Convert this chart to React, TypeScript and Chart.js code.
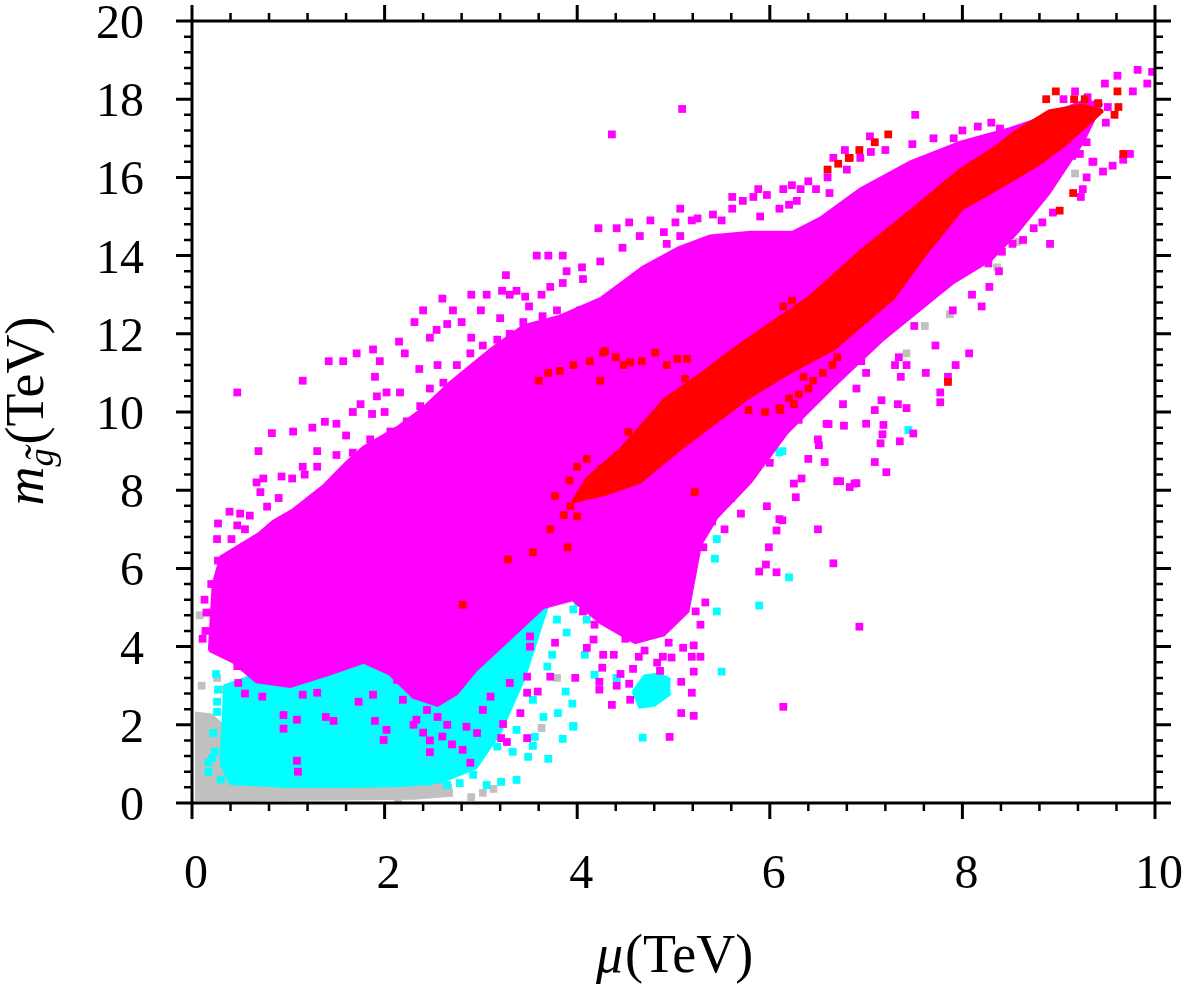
import { useEffect, useRef } from 'react';
import { Chart, registerables } from 'chart.js';

Chart.register(...registerables);

type P = [number, number];

// axes
const xTicks = [0, 2, 4, 6, 8, 10];
const yTicks = [0, 2, 4, 6, 8, 10, 12, 14, 16, 18, 20];
const xMax = 10;
const yMax = 20;
const minorPerMajor = 5;

const COLORS = { gray: '#c0c0c0', cyan: '#00ffff', magenta: '#ff00ff', red: '#ff0000' };

// dense cores, upper and lower edges (mu, m_gluino) in TeV
const grayBandUpper: P[] = [[0.03, 2.3], [0.2, 2.25], [0.36, 1.9], [0.45, 0.8], [1.0, 0.62], [1.8, 0.6], [2.3, 0.55], [2.7, 0.45]];
const grayBandLower: P[] = [[0.03, 0.08], [0.5, 0.08], [1.5, 0.1], [2.3, 0.12], [2.7, 0.2]];

const cyanBandUpper: P[] = [[0.3, 1.0], [0.34, 3.0], [0.8, 3.4], [1.5, 3.6], [2.2, 3.8], [2.8, 3.9], [3.2, 4.2], [3.5, 4.8], [3.7, 5.1]];
const cyanBandLower: P[] = [[0.3, 1.0], [0.4, 0.5], [1.0, 0.42], [1.6, 0.42], [2.2, 0.45], [2.6, 0.55], [2.95, 0.9], [3.2, 1.8], [3.45, 3.2], [3.7, 5.1]];
const cyanBlobUpper: P[] = [[4.58, 2.85], [4.7, 3.25], [4.85, 3.3], [4.97, 3.15]];
const cyanBlobLower: P[] = [[4.58, 2.85], [4.65, 2.45], [4.8, 2.5], [4.97, 2.8]];

const magentaBandUpper: P[] = [
  [0.18, 3.9], [0.22, 5.6], [0.3, 6.3], [0.5, 6.6], [0.7, 6.9], [0.84, 7.2], [1.05, 7.5], [1.36, 8.1], [1.6, 8.7], [1.78, 9.1],
  [2.13, 9.6], [2.4, 10.1], [2.68, 10.75], [3.1, 11.6], [3.44, 12.2], [3.82, 12.45], [4.24, 12.9], [4.68, 13.7],
  [5.05, 14.2], [5.38, 14.5], [5.8, 14.6], [6.24, 14.6], [6.52, 14.95], [6.94, 15.7], [7.46, 16.4], [7.98, 16.9],
  [8.5, 17.25], [8.8, 17.5], [9.25, 17.95], [9.45, 17.9],
];
const magentaBandLower: P[] = [
  [0.18, 3.9], [0.43, 3.6], [0.67, 3.1], [1.02, 2.98], [1.43, 3.3], [1.78, 3.6], [2.05, 3.3], [2.3, 2.7], [2.55, 2.5],
  [2.75, 2.8], [2.95, 3.4], [3.3, 4.2], [3.65, 5.0], [3.95, 5.2], [4.25, 4.6], [4.6, 4.1], [4.9, 4.3], [5.15, 4.9],
  [5.28, 6.6], [5.45, 7.3], [5.8, 8.2], [6.18, 9.47], [6.66, 10.65], [7.18, 11.86], [7.7, 12.9], [7.9, 13.3],
  [8.3, 13.9], [8.57, 14.6], [8.9, 15.6], [9.25, 16.9], [9.45, 17.9],
];

const redBandUpper: P[] = [
  [3.95, 7.7], [4.1, 8.3], [4.45, 9.05], [4.91, 10.33], [5.3, 11.0], [5.62, 11.6], [6.0, 12.25], [6.39, 12.9], [6.97, 14.17],
  [7.49, 15.2], [7.98, 16.2], [8.3, 16.7], [8.57, 17.2], [8.9, 17.7], [9.25, 17.85], [9.46, 17.7],
];
const redBandLower: P[] = [
  [3.95, 7.7], [4.3, 7.9], [4.65, 8.2], [5.07, 9.05], [5.76, 10.33], [6.2, 11.0], [6.66, 11.6], [7.28, 12.9], [7.66, 14.17],
  [8.0, 15.2], [8.29, 15.6], [8.77, 16.3], [9.05, 16.8], [9.46, 17.7],
];

// scattered points
const grayPoints: P[] = [
  [0.08, 4.8], [0.26, 3.2], [0.08, 2.2], [0.16, 2.08], [0.14, 1.46], [0.08, 1.05], [0.29, 1.49], [0.62, 3.33], [0.63, 3.59],
  [0.69, 3.79], [0.57, 4.61], [3.63, 1.92], [3.79, 3.2], [2.32, 0.26], [2.47, 0.36], [2.67, 0.26], [3.13, 0.36], [3.02, 0.26],
  [2.14, 0.1], [1.95, 0.41], [2.08, 0.38], [7.61, 12.2], [7.87, 12.5], [7.42, 11.5], [9.17, 16.1], [8.57, 14.35], [8.36, 13.7],
  [9.0, 16.6], [0.5, 2.6], [0.35, 2.9], [2.9, 0.15], [0.1, 3.0], [0.45, 2.3], [0.55, 2.1],
];

const cyanPoints: P[] = [
  [5.45, 6.75], [5.43, 6.25], [6.2, 5.77], [5.45, 4.9], [5.89, 5.05], [5.5, 3.36], [7.44, 9.54], [6.13, 9.0], [5.5, 7.95],
  [3.88, 2.85], [3.95, 2.54], [3.96, 1.97], [4.68, 1.67], [4.71, 6.23], [4.75, 6.56], [4.65, 6.3], [4.79, 7.17], [4.08, 5.38],
  [3.96, 4.95], [3.89, 4.36], [4.08, 3.79], [4.18, 3.28], [4.41, 3.2], [5.5, 8.03], [6.1, 8.97], [3.37, 0.59], [3.21, 0.54],
  [3.06, 0.46], [2.92, 0.72], [3.49, 1.18], [3.7, 1.13], [3.54, 1.46], [3.85, 1.64], [3.96, 1.95], [3.8, 2.3], [3.54, 2.64],
  [3.65, 2.2], [3.37, 1.87], [3.17, 1.44], [3.33, 1.31], [3.56, 1.69], [4.1, 4.69], [4.01, 5.12], [3.79, 4.69], [3.69, 3.49],
  [3.74, 3.79], [2.78, 0.51], [2.65, 0.46], [2.44, 0.54], [2.23, 0.54], [0.26, 2.59], [0.26, 2.33], [0.27, 2.9], [0.39, 2.51],
  [0.38, 2.26], [0.22, 1.79], [0.17, 0.79], [0.17, 1.03], [0.24, 1.31], [0.36, 1.44], [0.21, 1.15], [4.3, 5.6], [4.5, 6.0],
  [4.9, 7.4], [5.1, 7.7], [5.3, 7.9], [4.4, 5.8], [3.3, 3.0], [3.0, 2.6], [3.2, 3.3], [0.3, 0.6], [0.25, 3.3],
];

const magentaPoints: P[] = [
  // upper-left strand
  [0.47, 10.5], [1.15, 10.8], [0.69, 9.0], [0.83, 9.46], [1.05, 9.5], [1.42, 11.3], [1.57, 11.3], [1.71, 11.5], [1.88, 11.6],
  [1.95, 11.3], [2.15, 11.8], [2.21, 11.5], [2.31, 12.3], [2.4, 12.6], [2.54, 12.1], [2.65, 12.25], [2.71, 12.6], [2.9, 13.0],
  [3.06, 13.0], [3.22, 13.1], [3.37, 13.1], [3.63, 13.0], [3.72, 13.2], [3.85, 13.3], [1.5, 9.7], [1.38, 9.75], [1.25, 9.6],
  [1.75, 10.2], [1.87, 9.95], [1.67, 10.0], [1.92, 10.4], [2.02, 10.5], [2.16, 10.5], [2.36, 11.1], [2.47, 11.9], [0.67, 8.2],
  [0.74, 8.3], [0.71, 7.95], [0.93, 8.35], [1.04, 8.3], [1.15, 8.6], [1.17, 8.4], [0.27, 7.15], [0.39, 7.45], [0.5, 7.4],
  [0.6, 7.35], [0.47, 7.1], [0.26, 6.75], [0.41, 6.75], [0.14, 4.4], [0.13, 5.2], [0.2, 5.6], [0.27, 6.2], [0.11, 4.2],
  [0.32, 5.84], [0.26, 5.63], [0.15, 4.87], [0.27, 4.23], [0.27, 4.0], [0.47, 3.5], [0.48, 3.07], [0.55, 2.8], [0.73, 2.72],
  [2.6, 12.9], [3.0, 12.6], [3.58, 14.0], [3.7, 14.0], [3.26, 13.5], [3.3, 13.0], [3.46, 12.95], [1.3, 9.0], [1.6, 9.4],
  [2.0, 10.0], [2.55, 11.2], [2.9, 11.9], [3.2, 12.4], [3.5, 12.7], [0.9, 7.8], [0.55, 7.0], [1.9, 10.9], [2.8, 12.3],
  // along the upper edge of the core
  [0.78, 7.58], [1.3, 8.6], [1.5, 8.9], [1.67, 8.96], [1.85, 9.3], [2.06, 9.5], [2.23, 9.76], [2.37, 10.15], [2.47, 10.6],
  [2.61, 10.75], [2.75, 11.2], [2.89, 11.5], [3.02, 11.7], [3.17, 11.85], [3.3, 12.0], [3.44, 12.3], [3.64, 12.45], [3.79, 12.6],
  [4.03, 12.6],
  // inside the cyan cloud
  [0.95, 2.25], [0.95, 1.9], [1.09, 2.13], [1.09, 1.08], [1.1, 0.8], [1.39, 2.2], [1.47, 2.1], [1.3, 2.82], [1.15, 2.77],
  [1.73, 2.59], [1.88, 2.77], [1.9, 2.1], [2.02, 1.87], [1.99, 1.61], [2.13, 3.15], [2.19, 2.64], [2.33, 2.13], [2.44, 2.38],
  [2.47, 1.6], [2.47, 1.3], [2.6, 1.7], [2.81, 1.36], [2.89, 1.03], [2.85, 1.95], [2.96, 1.79], [3.02, 2.38], [3.1, 2.72],
  [3.21, 1.66], [3.27, 1.56], [3.48, 1.66], [3.23, 2.02], [3.41, 2.3], [3.48, 2.82], [3.59, 2.85], [3.48, 3.23], [3.3, 3.07],
  [3.72, 3.23], [3.98, 3.2], [3.77, 4.1], [3.51, 4.0], [4.1, 3.97], [4.18, 4.56], [4.06, 4.9], [3.51, 4.26], [2.3, 2.0],
  [2.4, 1.8], [2.55, 2.2], [2.7, 1.5], [2.65, 2.0],
  // lower tongue and lower right
  [4.98, 3.72], [4.86, 3.38], [4.55, 2.64], [4.36, 2.51], [4.54, 3.05], [4.41, 3.0], [4.23, 2.9], [4.23, 3.1], [4.26, 3.46],
  [4.58, 3.43], [4.64, 3.74], [4.83, 3.59], [4.27, 3.79], [4.38, 3.79], [4.17, 4.18], [5.1, 3.97], [4.89, 3.74], [5.33, 5.13],
  [5.23, 4.9], [5.28, 4.56], [5.21, 4.03], [5.19, 3.74], [5.28, 3.74], [5.21, 3.36], [5.19, 2.82], [5.08, 3.1], [5.21, 2.23],
  [5.08, 2.3], [4.96, 1.69], [6.93, 4.51], [6.14, 2.46], [4.45, 3.3], [4.7, 3.9], [4.95, 4.1], [4.5, 4.2],
  // right of the band
  [6.59, 9.7], [6.77, 9.65], [7.0, 9.7], [7.18, 9.67], [7.17, 9.43], [7.15, 9.2], [7.35, 9.25], [7.49, 9.45], [7.09, 8.72],
  [7.21, 8.46], [6.57, 8.72], [6.51, 9.15], [6.7, 8.23], [6.88, 8.17], [6.33, 8.3], [6.25, 8.17], [6.27, 7.82], [6.1, 7.26],
  [6.07, 6.97], [6.5, 7.0], [5.99, 6.54], [5.96, 6.1], [6.07, 5.9], [6.66, 6.13], [5.89, 5.92], [5.53, 7.0], [5.31, 6.54],
  [5.97, 7.59], [6.13, 7.23], [8.07, 11.5], [7.93, 11.2], [7.77, 10.5], [7.77, 10.25], [7.85, 10.9], [7.72, 11.7], [7.62, 11.0],
  [7.42, 11.2], [7.34, 11.4], [7.3, 11.2], [7.36, 10.9], [7.16, 10.3], [7.33, 10.2], [7.42, 10.1], [7.09, 10.05], [6.76, 10.2],
  [6.61, 9.69], [6.73, 8.23], [6.83, 8.08], [6.9, 8.18], [6.5, 9.3], [6.9, 10.6], [7.0, 11.0], [6.4, 8.8], [5.7, 7.4],
  [5.6, 7.8], [5.4, 7.2], [7.5, 12.2], [7.9, 12.6], [8.1, 13.0], [8.2, 12.7], [6.95, 11.3], [6.3, 9.8], [6.0, 8.7],
  // upper right
  [4.36, 17.1], [5.09, 17.75], [7.48, 16.85], [7.04, 17.05], [6.78, 16.7], [7.05, 16.65], [6.94, 16.5], [6.66, 16.5], [6.8, 16.2],
  [6.6, 16.0], [6.62, 15.6], [6.4, 15.9], [6.48, 15.7], [6.32, 15.7], [6.23, 15.8], [6.14, 15.7], [6.28, 15.4], [6.2, 15.3],
  [5.97, 15.55], [5.88, 15.7], [5.83, 15.5], [5.61, 15.5], [5.72, 15.4], [5.61, 15.2], [5.07, 15.2], [5.41, 15.05], [4.76, 14.9],
  [4.54, 14.85], [4.41, 14.7], [4.22, 14.7], [5.02, 14.85], [5.19, 14.9], [5.25, 14.95], [5.07, 14.5], [4.93, 14.3], [4.65, 14.5],
  [4.47, 14.2], [4.06, 13.4], [3.89, 13.6], [3.85, 14.0], [4.05, 13.7], [4.24, 13.85], [7.51, 17.6], [9.82, 18.75], [9.61, 18.6],
  [9.48, 18.4], [9.77, 18.2], [9.92, 18.4], [9.97, 18.7], [9.17, 18.2], [9.05, 18.0], [9.3, 18.05], [9.51, 17.8], [9.49, 17.4],
  [9.74, 16.6], [9.67, 16.45], [9.56, 16.3], [9.46, 16.15], [9.36, 16.4], [9.22, 16.6], [9.14, 16.55], [9.29, 16.0], [9.25, 15.7],
  [9.23, 15.5], [8.94, 15.1], [8.83, 14.85], [8.74, 14.7], [8.63, 14.4], [8.91, 14.3], [8.55, 14.7], [8.52, 14.3], [8.41, 14.1],
  [8.27, 13.8], [8.38, 13.6], [8.28, 13.2], [8.39, 17.25], [8.16, 17.3], [8.0, 17.2], [7.91, 17.0], [9.29, 16.9], [9.35, 16.4],
  [5.5, 14.9], [5.9, 15.0], [6.1, 15.2], [4.9, 14.6], [7.2, 16.7], [7.7, 17.0], [8.3, 17.4],
];

const redPoints: P[] = [
  [2.81, 5.07], [3.28, 6.23], [3.54, 6.41], [3.9, 6.54], [3.77, 7.85], [3.86, 7.36], [3.6, 10.8], [4.24, 10.8], [4.13, 11.3],
  [3.96, 11.2], [3.82, 11.05], [4.29, 11.56], [3.72, 7.0], [3.93, 7.59], [4.06, 7.85], [4.2, 8.28], [4.0, 7.33], [4.27, 11.52],
  [4.48, 11.2], [4.55, 11.27], [4.67, 11.3], [4.81, 11.52], [4.93, 11.2], [5.04, 11.36], [5.14, 11.36], [5.12, 10.85], [6.14, 12.7],
  [6.23, 12.85], [6.6, 16.2], [6.71, 16.35], [6.82, 16.5], [6.93, 16.7], [7.09, 16.9], [7.23, 17.1], [5.22, 7.95], [5.78, 10.05],
  [6.11, 10.05], [7.85, 10.77], [5.02, 9.13], [4.53, 9.49], [8.87, 18.0], [8.97, 18.2], [9.16, 18.0], [9.27, 18.0], [9.41, 17.9],
  [9.61, 18.2], [9.62, 17.8], [9.58, 17.6], [9.67, 16.6], [9.15, 15.6], [9.01, 15.15], [6.83, 16.5], [4.4, 11.4], [3.7, 11.0],
  [4.0, 8.6], [4.1, 8.8], [4.25, 8.55], [3.92, 8.25],
  // lower strand below the main band
  [5.95, 10.0], [6.1, 10.1], [6.25, 10.2], [6.2, 10.35], [6.3, 10.45], [6.4, 10.6], [6.45, 10.8], [6.55, 11.0], [6.65, 11.2],
  [6.7, 11.4], [6.35, 10.9],
];

const toXY = (pts: P[]) => pts.map(([x, y]) => ({ x, y }));

// two datasets: upper edge filled down to the lower edge
function band(upper: P[], lower: P[], color: string, order: number) {
  return [
    { data: toXY(upper), showLine: true, fill: '+1', backgroundColor: color, borderColor: color, borderWidth: 3, pointRadius: 0, order },
    { data: toXY(lower), showLine: true, fill: false, backgroundColor: color, borderColor: color, borderWidth: 3, pointRadius: 0, order },
  ];
}

function dots(pts: P[], color: string, order: number) {
  return {
    data: toXY(pts), showLine: false, pointStyle: 'rect', pointRadius: 5.5, pointHoverRadius: 5.5,
    backgroundColor: color, borderWidth: 0, order,
  };
}

const FONT = '"Liberation Serif", "Times New Roman", serif';

// frame, outward ticks on four sides, labels and titles
const axesPlugin = {
  id: 'axesFrame',
  afterDraw(chart: any) {
    const { ctx, chartArea: a, scales } = chart;
    const xs = scales.x;
    const ys = scales.y;
    ctx.save();
    ctx.strokeStyle = '#000';
    ctx.fillStyle = '#000';

    const xSteps = (xMax / (xTicks[1] - xTicks[0])) * minorPerMajor;
    for (let i = 0; i <= xSteps; i++) {
      const v = (i * xMax) / xSteps;
      const major = i % minorPerMajor === 0;
      const len = major ? 16 : 8;
      const px = xs.getPixelForValue(v);
      ctx.lineWidth = major ? 3 : 2.5;
      ctx.beginPath();
      ctx.moveTo(px, a.bottom); ctx.lineTo(px, a.bottom + len);
      ctx.moveTo(px, a.top); ctx.lineTo(px, a.top - len);
      ctx.stroke();
    }
    const ySteps = (yMax / (yTicks[1] - yTicks[0])) * minorPerMajor;
    for (let i = 0; i <= ySteps; i++) {
      const v = (i * yMax) / ySteps;
      const major = i % minorPerMajor === 0;
      const len = major ? 16 : 8;
      const py = ys.getPixelForValue(v);
      ctx.lineWidth = major ? 3 : 2.5;
      ctx.beginPath();
      ctx.moveTo(a.left, py); ctx.lineTo(a.left - len, py);
      ctx.moveTo(a.right, py); ctx.lineTo(a.right + len, py);
      ctx.stroke();
    }

    ctx.lineWidth = 3;
    ctx.strokeRect(a.left, a.top, a.right - a.left, a.bottom - a.top);

    // tick labels
    ctx.font = `48px ${FONT}`;
    ctx.textBaseline = 'alphabetic';
    ctx.textAlign = 'center';
    xTicks.forEach(v => ctx.fillText(String(v), xs.getPixelForValue(v) + 4, a.bottom + 85));
    ctx.textAlign = 'right';
    yTicks.forEach(v => ctx.fillText(String(v), a.left - 48, ys.getPixelForValue(v) + 17));

    // x title: mu(TeV)
    ctx.textAlign = 'left';
    const big = 54;
    ctx.font = `italic ${big}px ${FONT}`;
    const wMu = ctx.measureText('μ').width;
    ctx.font = `${big}px ${FONT}`;
    const wTev = ctx.measureText('(TeV)').width;
    const sx = (a.left + a.right) / 2 - (wMu + wTev) / 2;
    ctx.font = `italic ${big}px ${FONT}`;
    ctx.fillText('μ', sx, 972);
    ctx.font = `${big}px ${FONT}`;
    ctx.fillText('(TeV)', sx + wMu + 2, 972);

    // y title: m_g~(TeV), rotated
    ctx.translate(43, 411);
    ctx.rotate(-Math.PI / 2);
    const sub = 36;
    ctx.font = `italic ${big}px ${FONT}`;
    const wM = ctx.measureText('m').width;
    ctx.font = `italic ${sub}px ${FONT}`;
    const wG = ctx.measureText('g').width;
    ctx.font = `italic 44px ${FONT}`;
    const wT = ctx.measureText('˜').width;
    ctx.font = `${big}px ${FONT}`;
    const wP = ctx.measureText('(TeV)').width;
    const total = wM + wG + 4 + wP;
    let tx = -total / 2;
    ctx.font = `italic ${big}px ${FONT}`;
    ctx.fillText('m', tx, 0);
    tx += wM;
    ctx.font = `italic ${sub}px ${FONT}`;
    ctx.fillText('g', tx, 10);
    ctx.font = `italic 44px ${FONT}`;
    ctx.fillText('˜', tx + wG / 2 - wT / 2 + 3, 12);
    tx += wG + 4;
    ctx.font = `${big}px ${FONT}`;
    ctx.fillText('(TeV)', tx, 0);
    ctx.restore();
  },
};

export default function App() {
  const canvasRef = useRef<HTMLCanvasElement>(null);

  useEffect(() => {
    if (!canvasRef.current) return;
    const chart = new Chart(canvasRef.current, {
      type: 'scatter',
      data: {
        datasets: [
          ...band(redBandUpper, redBandLower, COLORS.red, 1),
          dots(redPoints, COLORS.red, 1),
          ...band(magentaBandUpper, magentaBandLower, COLORS.magenta, 2),
          dots(magentaPoints, COLORS.magenta, 2),
          ...band(cyanBandUpper, cyanBandLower, COLORS.cyan, 3),
          ...band(cyanBlobUpper, cyanBlobLower, COLORS.cyan, 3),
          dots(cyanPoints, COLORS.cyan, 3),
          ...band(grayBandUpper, grayBandLower, COLORS.gray, 4),
          dots(grayPoints, COLORS.gray, 4),
        ] as any,
      },
      options: {
        animation: false,
        responsive: true,
        maintainAspectRatio: false,
        events: [],
        layout: { padding: { top: 21, right: 28, bottom: 0, left: 0 } },
        plugins: { legend: { display: false }, tooltip: { enabled: false } },
        scales: {
          x: {
            type: 'linear', min: 0, max: xMax,
            ticks: { display: false }, grid: { display: false }, border: { display: false },
            afterFit: (s: any) => { s.height = 181; },
          },
          y: {
            type: 'linear', min: 0, max: yMax,
            ticks: { display: false }, grid: { display: false }, border: { display: false },
            afterFit: (s: any) => { s.width = 192; },
          },
        },
      },
      plugins: [axesPlugin],
    });
    return () => chart.destroy();
  }, []);

  return (
    <div style={{ position: 'absolute', left: 0, top: 0, width: 1183, height: 984, background: '#fff' }}>
      <canvas ref={canvasRef}></canvas>
    </div>
  );
}
